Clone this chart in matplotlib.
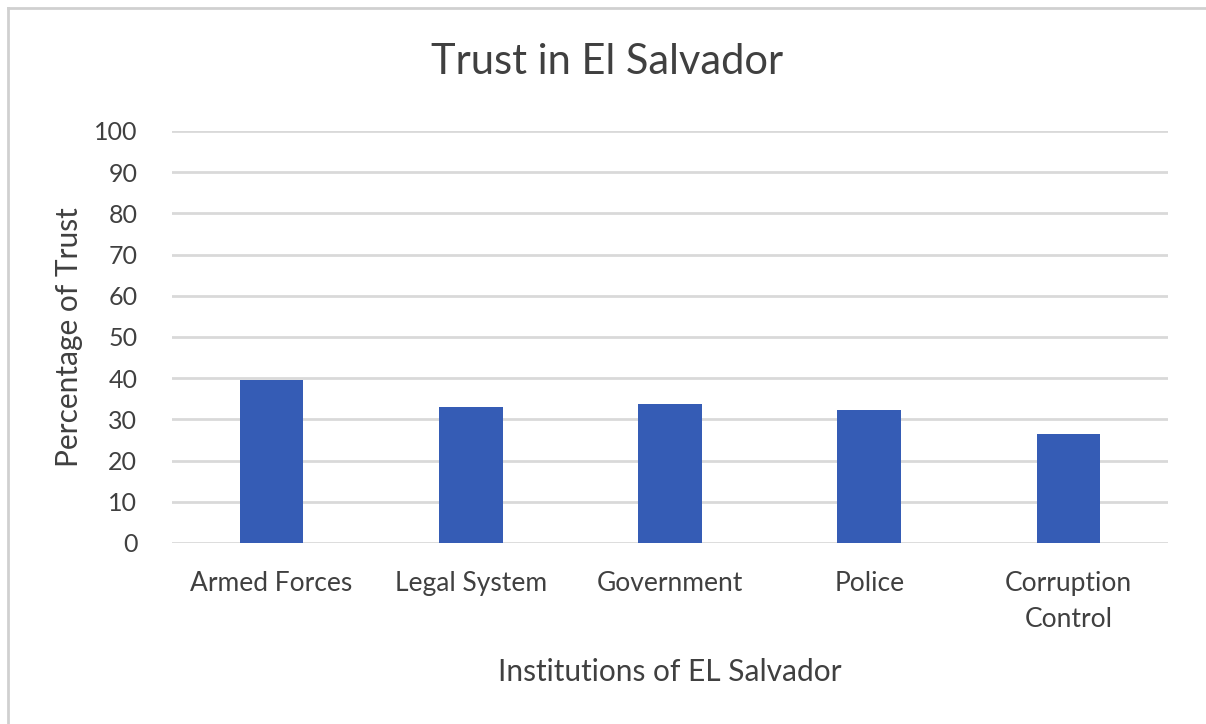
import matplotlib
matplotlib.use("Agg")
import matplotlib.pyplot as plt
from matplotlib.lines import Line2D

categories = ["Armed Forces", "Legal System", "Government", "Police", "Corruption\nControl"]
values = [39.5, 33.0, 33.8, 32.2, 26.5]
yticks = [0, 10, 20, 30, 40, 50, 60, 70, 80, 90, 100]

plt.rcParams['font.family'] = ['Lato', 'DejaVu Sans']
TXT = '#404040'

fig = plt.figure(figsize=(12.06, 7.24), dpi=100)
ax = fig.add_axes([172/1206, 1-543/724, (1168-172)/1206, (543-131)/724])

x = range(len(categories))
ax.bar(x, values, width=0.32, color='#355CB5', zorder=3)
ax.set_xlim(-0.5, len(categories)-0.5)
ax.set_ylim(0, 100)
ax.set_yticks(yticks)
ax.set_xticks(list(x))
ax.set_xticklabels(categories, fontsize=19, color=TXT, linespacing=1.55)
ax.tick_params(axis='y', labelsize=18, colors=TXT, length=0, pad=25)
ax.tick_params(axis='x', length=0, pad=20)
ax.grid(axis='y', color='#D9D9D9', linewidth=2, zorder=0)
for s in ax.spines.values():
    s.set_visible(False)

fig.text(607/1206, 1-62/724, "Trust in El Salvador", fontsize=30, color=TXT,
         ha='center', va='center')
ax.set_xlabel("Institutions of EL Salvador", fontsize=21.5, color=TXT, labelpad=19)
ax.set_ylabel("Percentage of Trust", fontsize=21.5, color=TXT, labelpad=8)

# chart border (left and top edges)
fig.add_artist(Line2D([8/1206, 8/1206], [0, 1-8/724], transform=fig.transFigure, color='#D0D0D0', linewidth=2))
fig.add_artist(Line2D([8/1206, 1], [1-8/724, 1-8/724], transform=fig.transFigure, color='#D0D0D0', linewidth=2))

fig.savefig("out.png", dpi=100)
